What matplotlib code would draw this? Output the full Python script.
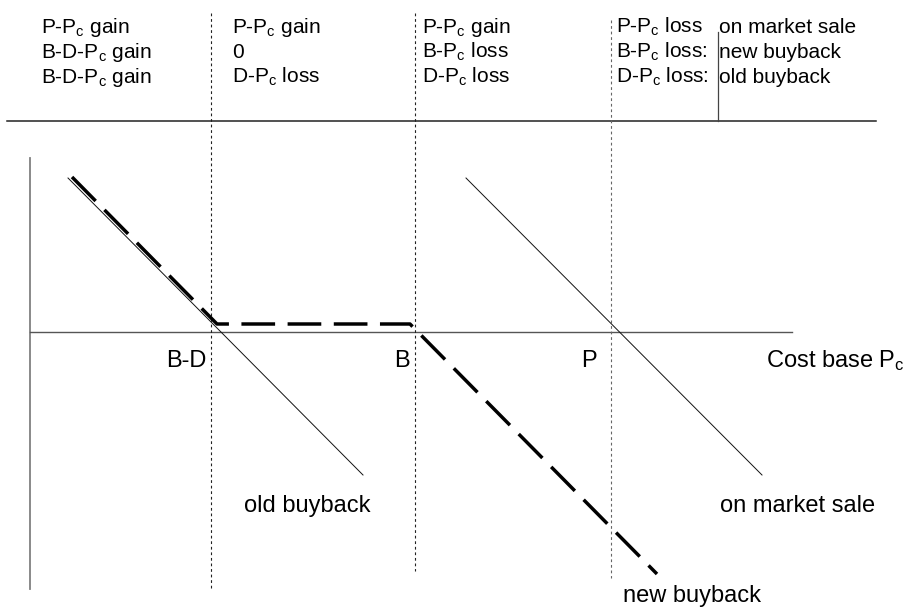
import matplotlib
matplotlib.use("Agg")
import matplotlib.pyplot as plt

plt.rcParams['font.family'] = ['Liberation Sans', 'DejaVu Sans']
plt.rcParams['mathtext.fontset'] = 'custom'
plt.rcParams['mathtext.rm'] = 'Liberation Sans'
plt.rcParams['mathtext.it'] = 'Liberation Sans:italic'

# ---- diagram data (diagram units, y grows downward) ----
x_bd, x_b, x_p = 211, 415, 611          # B-D, B, P cut points
divider_tops = [13, 13, 20]
divider_bottoms = [589, 571, 578]
divider_colors = ['#222222', '#222222', '#666666']

axis_y = 332
old_buyback_x = [68, 363]
old_buyback_y = [178, 475]
market_sale_x = [466, 762]
market_sale_y = [178, 475]
new_buyback_x = [72, 217, 410, 657]
new_buyback_y = [177, 324, 324, 574]

col_x = [41, 232, 422, 616]
row_y = [33, 58, 83]
col_texts = [
    ["P-P$_{\\mathrm{c}}$ gain", "B-D-P$_{\\mathrm{c}}$ gain", "B-D-P$_{\\mathrm{c}}$ gain"],
    ["P-P$_{\\mathrm{c}}$ gain", "0", "D-P$_{\\mathrm{c}}$ loss"],
    ["P-P$_{\\mathrm{c}}$ gain", "B-P$_{\\mathrm{c}}$ loss", "D-P$_{\\mathrm{c}}$ loss"],
    ["P-P$_{\\mathrm{c}}$ loss", "B-P$_{\\mathrm{c}}$ loss:", "D-P$_{\\mathrm{c}}$ loss:"],
]
legend_x = 719
legend_texts = ["on market sale", "new buyback", "old buyback"]

fig = plt.figure(figsize=(9.05, 6.08), dpi=100)
ax = fig.add_axes([0, 0, 1, 1])
ax.set_xlim(0, 905)
ax.set_ylim(608, 0)
ax.axis('off')

fs_head = 15
fs_lab = 17

# header rule and separator
ax.plot([7, 876], [121, 121], color='#222222', lw=1.1)
ax.plot([718, 718], [32, 121], color='#444444', lw=0.9)

# axes of diagram
ax.plot([30, 30], [158, 589], color='#808080', lw=1.3)
ax.plot([30, 792], [axis_y, axis_y], color='#555555', lw=1.0)

# dotted dividers
for xv, t, b, c in zip([x_bd, x_b, x_p], divider_tops, divider_bottoms, divider_colors):
    ax.plot([xv, xv], [t, b], color=c, lw=0.8, linestyle=(0, (2.5, 2.5)))

# thin lines
ax.plot(old_buyback_x, old_buyback_y, color='#111111', lw=0.7)
ax.plot(market_sale_x, market_sale_y, color='#111111', lw=0.7)

# thick dashed new buyback
ax.plot(new_buyback_x, new_buyback_y, color='black', lw=2.5,
        dashes=(9.7, 3.6), dash_capstyle='butt', solid_joinstyle='miter')

# header texts
for cx, texts in zip(col_x, col_texts):
    for ry, t in zip(row_y, texts):
        ax.text(cx, ry, t, fontsize=fs_head, va='baseline', ha='left')
for ry, t in zip(row_y, legend_texts):
    ax.text(legend_x, ry, t, fontsize=fs_head, va='baseline', ha='left')

# axis labels
ax.text(206, 367, "B-D", fontsize=fs_lab, va='baseline', ha='right')
ax.text(410, 367, "B", fontsize=fs_lab, va='baseline', ha='right')
ax.text(597, 367, "P", fontsize=fs_lab, va='baseline', ha='right')
ax.text(766, 367, "Cost base P$_{\\mathrm{c}}$", fontsize=fs_lab, va='baseline', ha='left')
ax.text(244, 512, "old buyback", fontsize=fs_lab, va='baseline', ha='left')
ax.text(720, 512, "on market sale", fontsize=fs_lab, va='baseline', ha='left')
ax.text(623, 602, "new buyback", fontsize=fs_lab, va='baseline', ha='left')

fig.savefig("out.png", dpi=100)
